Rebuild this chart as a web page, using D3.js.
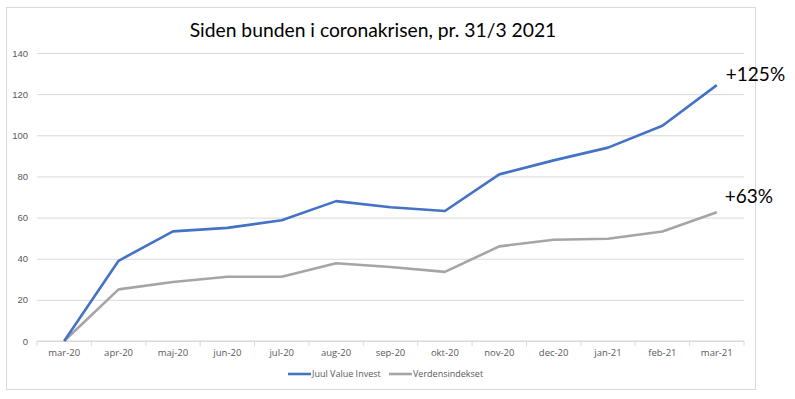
<!doctype html>
<html lang="da">
<head>
<meta charset="utf-8">
<script src="https://cdn.jsdelivr.net/npm/d3@7"></script>
<style>
  body { margin: 0; background: #fff; }
  svg { display: block; font-family: "Open Sans", "Liberation Sans", sans-serif; }
  .big { font-family: Lato, "Open Sans", sans-serif; }
</style>
</head>
<body>
<div id="chart"></div>
<script>
// data
const months = ["mar-20","apr-20","maj-20","jun-20","jul-20","aug-20","sep-20",
                "okt-20","nov-20","dec-20","jan-21","feb-21","mar-21"];
const juul = [0, 39, 53.3, 55, 58.7, 68, 65, 63.2, 81, 87.8, 94, 104.6, 124.4];
const verden = [0, 25.1, 28.7, 31.2, 31.2, 37.8, 36, 33.6, 46, 49.2, 49.7, 53.2, 62.6];
const yTicks = [0, 20, 40, 60, 80, 100, 120, 140];
const seriesNames = ["Juul Value Invest", "Verdensindekset"];
const colors = ["#4472C4", "#A5A5A5"];
const endLabels = ["+125%", "+63%"];

const width = 795, height = 399;
const margin = {left: 37, right: 51, top: 53, bottom: 58};

const svg = d3.select("#chart").append("svg")
    .attr("width", width)
    .attr("height", height);

// outer frame
svg.append("rect")
    .attr("x", 6.5).attr("y", 7.5)
    .attr("width", 749).attr("height", 382)
    .attr("fill", "none")
    .attr("stroke", "#d9d9d9");

const x = d3.scaleBand()
    .domain(months)
    .range([margin.left, width - margin.right]);

const y = d3.scaleLinear()
    .domain([0, 140])
    .range([height - margin.bottom, margin.top]);

// gridlines + y labels
const yAxis = svg.append("g")
    .attr("transform", `translate(${margin.left},0)`)
    .call(d3.axisLeft(y).tickValues(yTicks).tickSize(-(width - margin.left - margin.right)).tickPadding(9));
yAxis.select(".domain").remove();
yAxis.selectAll(".tick line").attr("stroke", "#d9d9d9");
yAxis.selectAll(".tick text").attr("fill", "#595959").style("font-size", "9.5px");

// bottom axis: line + tick marks at band edges
const xAxis = svg.append("g")
    .attr("transform", `translate(0,${y(0)})`);
xAxis.append("line")
    .attr("x1", margin.left).attr("x2", width - margin.right)
    .attr("stroke", "#d9d9d9");
xAxis.selectAll("line.edge")
    .data(months.concat(["end"]))
    .join("line")
    .attr("class", "edge")
    .attr("x1", (d, i) => margin.left + i * x.bandwidth())
    .attr("x2", (d, i) => margin.left + i * x.bandwidth())
    .attr("y1", 0).attr("y2", 5)
    .attr("stroke", "#d9d9d9");
xAxis.selectAll("text")
    .data(months)
    .join("text")
    .attr("x", d => x(d) + x.bandwidth() / 2)
    .attr("y", 15)
    .attr("text-anchor", "middle")
    .attr("fill", "#595959")
    .style("font-size", "9.5px")
    .text(d => d);

// lines
const line = d3.line()
    .x((d, i) => x(months[i]) + x.bandwidth() / 2)
    .y(d => y(d));

[verden, juul].forEach((vals, k) => {
  const idx = k === 0 ? 1 : 0;
  svg.append("path")
    .datum(vals)
    .attr("fill", "none")
    .attr("stroke", colors[idx])
    .attr("stroke-width", 2.6)
    .attr("stroke-linejoin", "round")
    .attr("d", line);
});

// end labels
const lastX = x(months[months.length - 1]) + x.bandwidth() / 2;
svg.append("text")
    .attr("class", "big")
    .attr("x", lastX + 9).attr("y", y(juul[juul.length - 1]) - 4)
    .style("font-size", "19px")
    .attr("fill", "#000")
    .text(endLabels[0]);
svg.append("text")
    .attr("class", "big")
    .attr("x", lastX + 8).attr("y", y(verden[verden.length - 1]) - 9)
    .style("font-size", "19px")
    .attr("fill", "#000")
    .text(endLabels[1]);

// title
svg.append("text")
    .attr("class", "big")
    .attr("x", 373).attr("y", 37)
    .attr("text-anchor", "middle")
    .style("font-size", "19.3px")
    .attr("fill", "#000")
    .text("Siden bunden i coronakrisen, pr. 31/3 2021");

// legend
const legend = svg.append("g").attr("transform", "translate(288,374)");
const legX = [0, 101];
seriesNames.forEach((name, i) => {
  const g = legend.append("g").attr("transform", `translate(${legX[i]},0)`);
  g.append("line")
    .attr("x1", 0).attr("x2", 23)
    .attr("stroke", colors[i]).attr("stroke-width", 2.6);
  g.append("text")
    .attr("x", 24).attr("y", 3.3)
    .attr("fill", "#595959")
    .style("font-size", "9px")
    .text(name);
});
</script>
</body>
</html>
